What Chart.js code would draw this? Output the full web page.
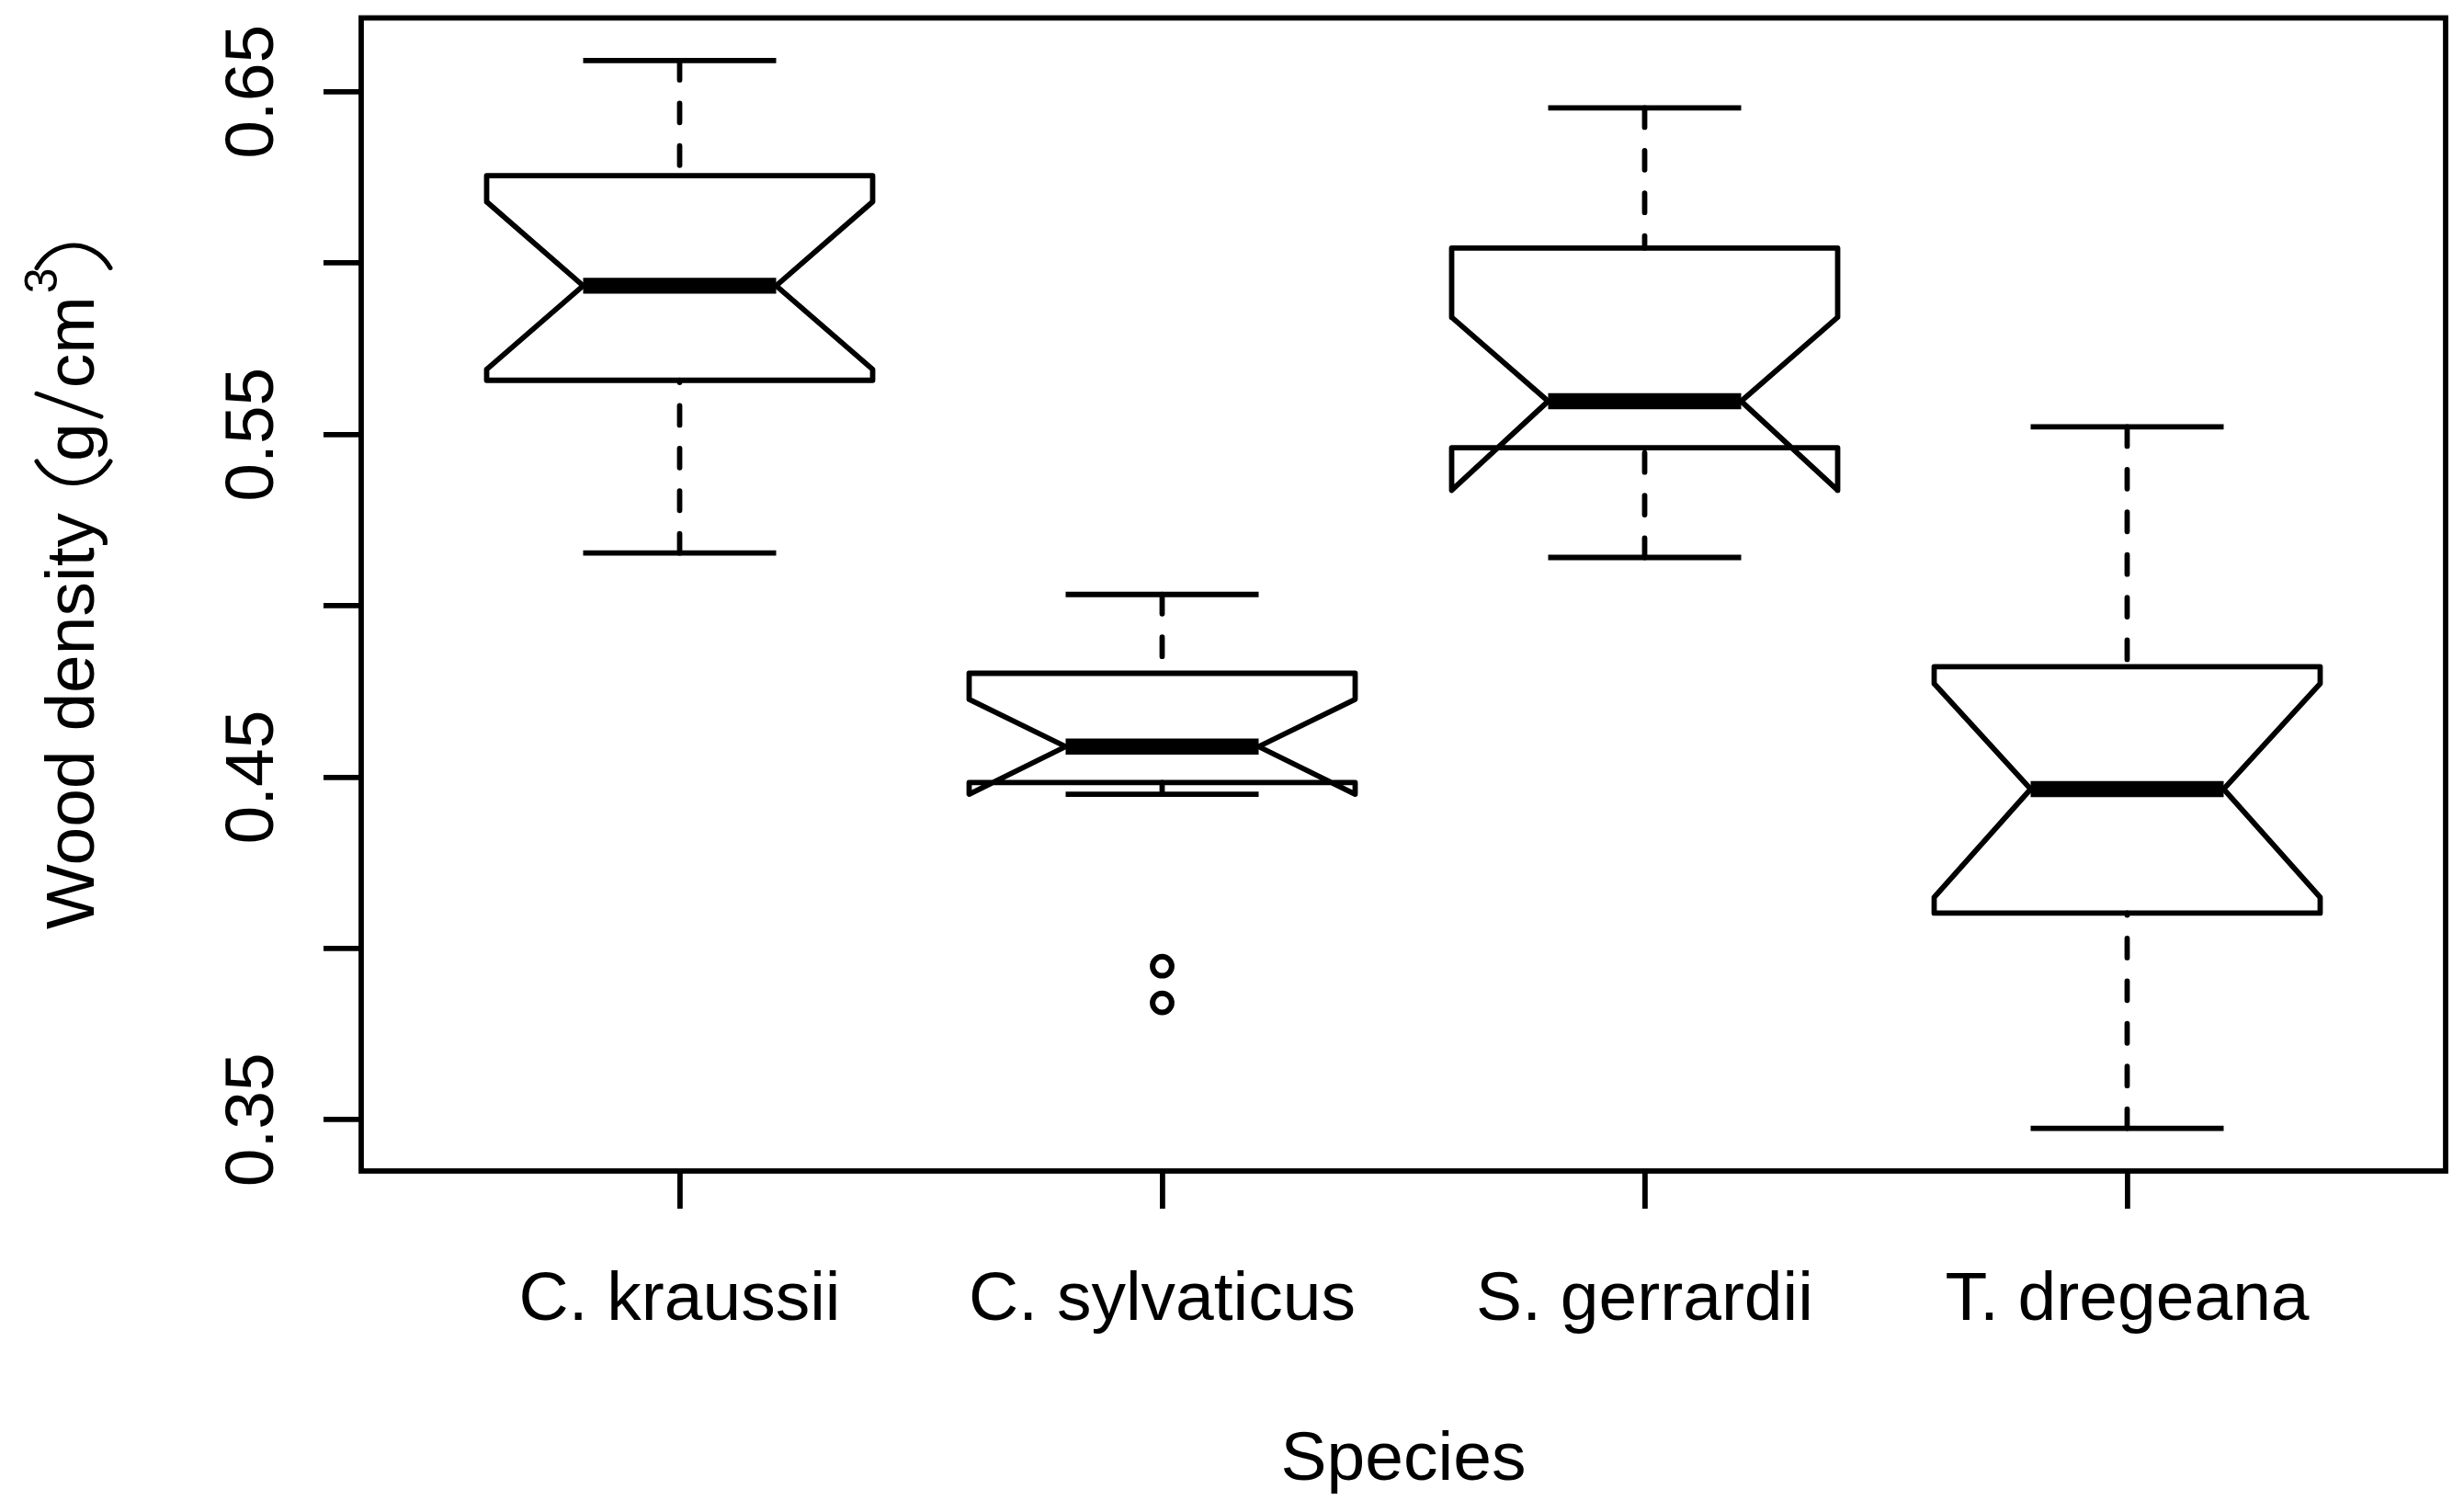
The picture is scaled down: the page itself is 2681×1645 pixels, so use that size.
<!DOCTYPE html>
<html>
<head>
<meta charset="utf-8">
<title>Wood density by species</title>
<script src="https://cdn.jsdelivr.net/npm/chart.js@4.4.1/dist/chart.umd.min.js"></script>
<style>
  html, body { margin: 0; padding: 0; background: #fff; }
  #chart { display: block; }
</style>
</head>
<body>
<canvas id="chart" width="2681" height="1645"></canvas>
<script>
// Species along the x axis (drawn at positions 1..4)
const species = ['C. kraussii', 'C. sylvaticus', 'S. gerrardii', 'T. dregeana'];

// Box statistics (g/cm3)
const whiskerLow  = [0.5154, 0.4450, 0.5141, 0.3475];
const quartile1   = [0.5658, 0.4484, 0.5461, 0.4103];
const medians     = [0.5934, 0.4589, 0.5597, 0.4465];
const quartile3   = [0.6255, 0.4803, 0.6044, 0.4822];
const whiskerHigh = [0.6591, 0.5033, 0.6453, 0.5522];
const notchLow    = [0.5690, 0.4450, 0.5337, 0.4149];
const notchHigh   = [0.6179, 0.4727, 0.5842, 0.4773];

// Outlying points
const outlierSpecies = ['C. sylvaticus', 'C. sylvaticus'];
const outlierValues  = [0.3948, 0.3841];

// Y axis ticks (every other one labelled, like R)
const yTicks      = [0.35, 0.40, 0.45, 0.50, 0.55, 0.60, 0.65];
const yTickLabels = ['0.35', '', '0.45', '', '0.55', '', '0.65'];

const xTitle = 'Species';

// Drawing constants
const LW = 5.8;           // base line width
const BOX_HALF = 0.4;     // half box width in x units
const NOTCH_HALF = 0.2;   // half width at the notch
const STAPLE_HALF = 0.2;
const FONT = '"Liberation Sans", Arial, Helvetica, sans-serif';

// R style limits: data range padded by 4%
const allValues = whiskerLow.concat(whiskerHigh, outlierValues);
const dataMin = Math.min(...allValues);
const dataMax = Math.max(...allValues);
const yPad = (dataMax - dataMin) * 0.04;
const xMin = 0.5 - species.length * 0.04;
const xMax = species.length + 0.5 + species.length * 0.04;

function seg(points, extra) {
    return Object.assign({
        data: points,
        showLine: true,
        pointRadius: 0,
        pointHoverRadius: 0,
        borderColor: '#000',
        borderWidth: LW,
        borderCapStyle: 'butt',
        borderJoinStyle: 'round',
        fill: false
    }, extra || {});
}

// Build the notched boxes from the arrays
const datasets = [];
species.forEach((name, i) => {
    const c = i + 1;
    const dashed = { borderDash: [21, 25.4], borderCapStyle: 'round' };

    // whiskers go from the staple toward the hinge
    datasets.push(seg([{ x: c, y: whiskerHigh[i] }, { x: c, y: quartile3[i] }], dashed));
    datasets.push(seg([{ x: c, y: whiskerLow[i] }, { x: c, y: quartile1[i] }], dashed));

    // staples
    datasets.push(seg([{ x: c - STAPLE_HALF, y: whiskerHigh[i] }, { x: c + STAPLE_HALF, y: whiskerHigh[i] }]));
    datasets.push(seg([{ x: c - STAPLE_HALF, y: whiskerLow[i] }, { x: c + STAPLE_HALF, y: whiskerLow[i] }]));

    // notched box outline (same vertex order as R's bxp)
    datasets.push(seg([
        { x: c, y: quartile1[i] },
        { x: c + BOX_HALF, y: quartile1[i] },
        { x: c + BOX_HALF, y: notchLow[i] },
        { x: c + NOTCH_HALF, y: medians[i] },
        { x: c + BOX_HALF, y: notchHigh[i] },
        { x: c + BOX_HALF, y: quartile3[i] },
        { x: c - BOX_HALF, y: quartile3[i] },
        { x: c - BOX_HALF, y: notchHigh[i] },
        { x: c - NOTCH_HALF, y: medians[i] },
        { x: c - BOX_HALF, y: notchLow[i] },
        { x: c - BOX_HALF, y: quartile1[i] },
        { x: c, y: quartile1[i] }
    ]));

    // median bar
    datasets.push(seg([{ x: c - NOTCH_HALF, y: medians[i] }, { x: c + NOTCH_HALF, y: medians[i] }],
        { borderWidth: LW * 3 }));
});

// Outliers as open circles
datasets.push({
    data: outlierValues.map((v, k) => ({ x: species.indexOf(outlierSpecies[k]) + 1, y: v })),
    showLine: false,
    pointStyle: 'circle',
    pointRadius: 10.4,
    pointHoverRadius: 10.4,
    pointBorderWidth: 6,
    pointBorderColor: '#000',
    pointBackgroundColor: 'rgba(0,0,0,0)'
});

// Parenthesis as a thin elliptic arc, in the rotated text frame
function drawParen(ctx, x0, w, right) {
    const mid = -22, ry = 48, half = 40;
    const a = Math.asin(half / ry);
    const rx = (w - 2.5) / (1 - Math.cos(a));
    ctx.beginPath();
    if (right) {
        ctx.ellipse(x0 + w - 2.5 - rx, mid, rx, ry, 0, -a, a);
    } else {
        ctx.ellipse(x0 + 2.5 + rx, mid, rx, ry, 0, Math.PI - a, Math.PI + a);
    }
    ctx.stroke();
}

// Frame, tick labels and axis titles in R style
const rStyleFrame = {
    id: 'rStyleFrame',
    afterDraw(chart) {
        const { ctx, chartArea: a } = chart;
        const xs = chart.scales.x;
        const ys = chart.scales.y;
        ctx.save();
        ctx.strokeStyle = '#000';
        ctx.fillStyle = '#000';
        ctx.lineWidth = LW;
        ctx.strokeRect(a.left, a.top, a.right - a.left, a.bottom - a.top);

        ctx.font = '75px ' + FONT;
        ctx.textAlign = 'center';
        ctx.textBaseline = 'alphabetic';
        species.forEach((name, i) => {
            ctx.fillText(name, xs.getPixelForValue(i + 1), a.bottom + 162);
        });
        ctx.fillText(xTitle, (a.left + a.right) / 2, a.bottom + 336);

        // y tick labels, parallel to the axis
        yTicks.forEach((v, k) => {
            if (!yTickLabels[k]) return;
            ctx.save();
            ctx.translate(a.left - 96, ys.getPixelForValue(v));
            ctx.rotate(-Math.PI / 2);
            ctx.fillText(yTickLabels[k], 0, 0);
            ctx.restore();
        });

        // y title: Wood density (g/cm^3)
        const big = '75px ' + FONT;
        const small = '50px ' + FONT;
        ctx.font = big;
        const wMain = ctx.measureText('Wood density').width;
        const wG = ctx.measureText('g').width;
        const wCm = ctx.measureText('cm').width;
        ctx.font = small;
        const w3 = ctx.measureText('3').width;
        const pieces = [];
        let px = 0;
        pieces.push({ t: 'Wood density', x: px }); px += wMain + 30;
        pieces.push({ paren: 'left', x: px, w: 26 }); px += 26;
        pieces.push({ t: 'g', x: px }); px += wG + 7;
        pieces.push({ slash: true, x: px, w: 25 }); px += 25 + 6;
        pieces.push({ t: 'cm', x: px }); px += wCm + 3;
        pieces.push({ t: '3', x: px, sup: true }); px += w3;
        pieces.push({ paren: 'right', x: px, w: 27 }); px += 27;

        const centerY = (a.top + a.bottom) / 2 - 9;
        ctx.save();
        ctx.translate(102, centerY + px / 2);
        ctx.rotate(-Math.PI / 2);
        ctx.textAlign = 'left';
        ctx.lineWidth = 5;
        ctx.lineCap = 'round';
        pieces.forEach(p => {
            if (p.paren) {
                drawParen(ctx, p.x, p.w, p.paren === 'right');
            } else if (p.slash) {
                ctx.beginPath();
                ctx.moveTo(p.x, 8);
                ctx.lineTo(p.x + p.w, -62);
                ctx.stroke();
            } else {
                ctx.font = p.sup ? small : big;
                ctx.fillText(p.t, p.x, p.sup ? -40 : 0);
            }
        });
        ctx.restore();
        ctx.restore();
    }
};

const ctx = document.getElementById('chart').getContext('2d');
new Chart(ctx, {
    type: 'scatter',
    data: { datasets: datasets },
    options: {
        responsive: false,
        devicePixelRatio: 1,
        animation: false,
        events: [],
        layout: {
            autoPadding: false,
            padding: { top: 19.5, right: 20, left: 0, bottom: 0 }
        },
        plugins: {
            legend: { display: false },
            tooltip: { enabled: false }
        },
        scales: {
            x: {
                type: 'linear',
                position: 'bottom',
                min: xMin,
                max: xMax,
                afterBuildTicks: s => { s.ticks = species.map((_, i) => ({ value: i + 1 })); },
                afterFit: s => { s.height = 371; },
                grid: {
                    display: true, drawOnChartArea: false, drawTicks: true,
                    tickLength: 41, color: '#000', lineWidth: LW
                },
                border: { display: false },
                ticks: { display: false }
            },
            y: {
                type: 'linear',
                position: 'left',
                min: dataMin - yPad,
                max: dataMax + yPad,
                afterBuildTicks: s => { s.ticks = yTicks.map(v => ({ value: v })); },
                afterFit: s => { s.width = 393; },
                grid: {
                    display: true, drawOnChartArea: false, drawTicks: true,
                    tickLength: 41, color: '#000', lineWidth: LW
                },
                border: { display: false },
                ticks: { display: false }
            }
        }
    },
    plugins: [rStyleFrame]
});
</script>
</body>
</html>
